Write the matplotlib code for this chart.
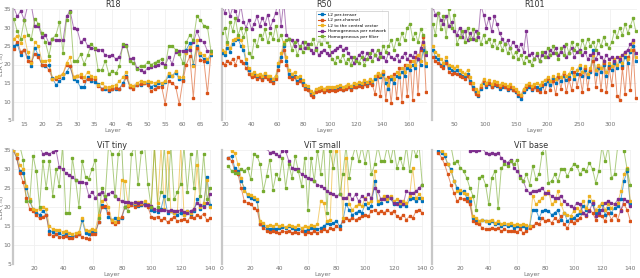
import numpy as np
import matplotlib
matplotlib.use("Agg")
import matplotlib.pyplot as plt
from matplotlib.lines import Line2D

# ---------------- data ----------------
series_names = ["L2 per-tensor", "L2 per-channel", "L2 to the central vector",
                "Homogeneous per network", "Homogeneous per filter"]
colors = ["#0072BD", "#D95319", "#EDB120", "#7E2F8E", "#77AC30"]

# R18 (layers 12..68)
r18_range = (12, 68)
r18_blue = [25, 25.5, 22.5, 24, 22, 19.5, 24.5, 22.5, 20, 19.5, 19.8, 16.3, 14.5, 15.5, 16.3, 18, 19.5, 16, 15.5, 13.8,
            14, 16.5, 15.5, 15.2, 14.6, 13.5, 13.5, 12.8, 13.3, 13.4, 13.5, 15, 17, 14, 13.8, 14.5, 14.5, 15, 15, 14,
            14.5, 15, 14.7, 15.2, 17, 16.8, 17.8, 16, 15.8, 24, 25.8, 20, 25, 22.5, 21.5, 20.8, 22.5]
r18_orange = [24.2, 26.2, 23.5, 24, 21, 20.8, 22.8, 22, 20, 19.8, 18.5, 16.2, 16, 16.5, 17.5, 19.8, 19.5, 16.5, 16.8, 16.5,
              15.5, 16.2, 16, 16, 14.2, 13.5, 13.8, 13, 13.5, 13.7, 13.5, 14.5, 16.5, 14, 13.5, 14.5, 14.8, 15, 14.5, 12.8,
              13.5, 14, 14, 9.4, 15.5, 15, 14, 9.3, 15.5, 20, 22.2, 11, 24.5, 21.2, 21, 12.2, 23]
r18_yellow = [27, 27.8, 25.8, 27.8, 23.3, 20.5, 26, 25, 21, 21, 21.2, 16.2, 16.5, 17, 17.5, 20.5, 22, 16.7, 17, 17.3,
              16.5, 18, 17, 16.5, 14.5, 15, 14, 13.8, 14.2, 14.5, 15.5, 16.5, 18, 14.5, 14.3, 15, 15.5, 15.3, 15.5, 15.3,
              15, 15.5, 15, 15.5, 17.8, 17, 18.2, 16.5, 16.5, 23, 24.8, 19.5, 26.5, 23, 22.5, 21.5, 23]
r18_purple = [35.5, 33, 34.5, 32, 36, 36, 30.5, 30.5, 27.5, 28, 25.7, 26.8, 26.5, 26.5, 26.5, 33, 34.5, 30, 29.5, 26,
              27, 25, 24.5, 24.2, 24, 24, 22.5, 22.3, 22.5, 21.5, 22, 25, 25.3, 21.5, 21.7, 19, 18.5, 18, 19, 19.3,
              19.5, 20, 20.3, 19.8, 22, 20.2, 23.5, 23.7, 23.7, 23.7, 24, 26, 29, 26.5, 26, 23.7, 23.7]
r18_green = [32.4, 29, 27, 32, 28, 27, 32.4, 31, 28.5, 26, 22.3, 27, 28, 31.5, 23.2, 32, 34.2, 21, 21, 22.8,
             20.2, 22.5, 25.5, 24.5, 18.4, 18.5, 21, 17.5, 18.2, 17.6, 19.5, 25.5, 25, 21, 20.5, 18.8, 19.7, 19.6, 20.6, 20,
             20.5, 21, 21.5, 19.3, 25, 25, 24, 22.8, 20.5, 26, 28, 26.5, 33, 32, 30.5, 30.2, 23.6]

# R50 (layers ~17.5..173)
r50_range = (17.5, 173.3)
r50_blue = [23.0, 22.5, 24.5, 23.5, 25.5, 26.5, 27.0, 25.0, 24.0, 20.5,
            18.5, 17.0, 17.5, 16.5, 16.8, 16.2, 17.0, 16.5, 16.0, 15.5, 16.5,
            19.5, 22.0, 25.0, 21.0, 17.5, 16.5, 17.0, 15.5, 16.0, 15.0,
            14.0, 13.5, 12.0, 11.5, 12.8, 13.0, 13.5, 12.8, 13.2, 13.0,
            13.4, 13.0, 13.5, 13.8, 13.2, 13.6, 14.0, 13.5, 14.2, 14.0,
            14.5, 14.2, 15.0, 14.5, 15.2, 14.8, 16.0, 17.0, 16.5, 17.5,
            15.0, 13.5, 16.0, 15.0, 17.0, 16.5, 18.0, 17.0, 19.0, 18.5,
            20.0, 19.0, 21.5, 20.0, 24.0, 19.5]
r50_orange = [20.5, 20.0, 21.0, 20.5, 21.5, 20.0, 22.0, 21.0, 20.5, 19.0,
              17.5, 16.5, 17.0, 16.0, 16.5, 15.8, 16.5, 16.0, 15.5, 15.0, 16.0,
              18.5, 21.0, 24.0, 20.0, 16.5, 16.0, 16.5, 15.0, 15.5, 14.5,
              13.5, 13.0, 11.8, 11.2, 12.5, 12.8, 13.0, 12.5, 13.0, 12.8,
              13.0, 12.8, 13.2, 13.5, 13.0, 13.3, 13.8, 13.2, 14.0, 13.8,
              14.2, 13.8, 14.8, 14.2, 15.0, 14.5, 12.0, 17.0, 11.5, 18.0,
              10.5, 16.5, 9.5, 17.5, 11.0, 19.0, 10.0, 20.0, 11.5, 21.0,
              10.5, 22.0, 12.0, 24.0, 27.5, 12.5]
r50_yellow = [24.0, 23.5, 25.5, 24.5, 26.5, 27.0, 27.5, 26.5, 25.0, 21.5,
              19.0, 17.5, 18.0, 17.2, 17.5, 17.0, 17.8, 17.0, 16.8, 16.2, 17.0,
              20.5, 23.0, 26.0, 22.0, 18.5, 17.5, 18.0, 16.5, 16.8, 15.8,
              14.5, 14.2, 12.8, 12.2, 13.5, 13.6, 14.0, 13.5, 14.0, 13.8,
              14.0, 13.8, 14.2, 14.5, 14.0, 14.3, 14.8, 14.2, 15.0, 14.8,
              15.2, 15.0, 15.8, 15.3, 16.0, 15.5, 16.8, 17.8, 17.2, 18.2,
              16.0, 14.5, 17.0, 16.0, 18.0, 17.5, 19.0, 18.0, 20.0, 19.5,
              21.0, 20.0, 22.5, 21.0, 25.5, 20.5]
r50_purple = [36.0, 34.0, 36.5, 33.0, 35.5, 34.5, 32.0, 36.0, 31.5, 30.0,
              32.0, 29.5, 31.0, 33.0, 30.5, 32.5, 31.0, 33.5, 30.0, 32.0, 34.0,
              38.0, 30.5, 37.0, 28.0, 27.0, 26.5, 25.0, 26.5, 24.5, 26.0,
              24.5, 25.5, 24.0, 23.0, 24.5, 22.5, 23.5, 24.0, 23.0, 22.5,
              23.5, 24.0, 24.5, 25.0, 24.0, 24.5, 23.0, 22.0, 20.5, 21.5,
              22.5, 23.5, 21.5, 23.0, 22.0, 24.0, 22.5, 21.5, 23.0, 22.0,
              21.0, 23.0, 22.0, 21.5, 22.5, 21.0, 22.0, 23.0, 21.5, 22.5,
              22.0, 23.5, 21.5, 24.5, 26.0, 22.5]
r50_green = [28.5, 30.0, 26.0, 31.5, 29.0, 32.5, 28.0, 30.0, 27.5, 29.5,
             23.0, 22.0, 26.5, 25.0, 28.0, 27.0, 29.5, 26.0, 28.5, 27.0, 30.5,
             26.5, 28.0, 25.5, 26.5, 27.0, 24.0, 26.0, 22.5, 25.0, 23.5,
             26.0, 24.5, 25.5, 27.0, 24.0, 26.5, 25.5, 27.0, 26.0, 25.0,
             21.5, 20.5, 22.0, 21.0, 22.5, 20.5, 21.5, 20.0, 22.0, 21.0,
             20.5, 22.0, 20.0, 21.5, 23.0, 21.0, 22.5, 24.0, 22.0, 25.0,
             23.5, 25.0, 26.5, 24.0, 27.0, 25.5, 28.5, 26.5, 30.0, 31.0,
             27.0, 28.5, 26.0, 29.5, 28.0, 23.5]

# R101 (layers ~16..341)
r101_range = (16.3, 341)
r101_blue = [24.0, 22.0, 21.5, 20.0, 19.5, 21.0, 19.0, 18.5, 18.0, 18.5,
             17.5, 17.0, 16.5, 17.5, 15.5, 14.0, 12.5, 11.5, 13.5, 15.0, 14.0,
             14.8, 13.8, 14.5, 14.2, 13.5, 14.0, 13.8, 13.2, 13.6, 13.0,
             12.5, 11.5, 10.8, 12.5, 13.5, 14.0, 13.2, 13.8, 14.0, 13.5,
             14.2, 14.8, 15.5, 14.5, 16.0, 15.0, 16.5, 15.5, 17.0, 15.8,
             16.5, 18.0, 16.0, 17.5, 19.0, 17.0, 18.5, 16.5, 18.0, 24.0,
             17.5, 19.0, 18.0, 20.0, 17.0, 19.5, 18.5, 20.5, 19.0, 21.0,
             19.5, 22.0, 20.5, 23.5, 25.0, 21.0]
r101_orange = [22.0, 21.0, 20.5, 19.5, 19.0, 20.5, 18.0, 17.5, 17.8, 17.5,
               17.0, 16.5, 16.0, 17.0, 15.0, 13.5, 12.0, 11.8, 13.8, 15.5, 14.5,
               15.0, 14.0, 14.8, 14.5, 14.0, 14.5, 14.0, 13.5, 14.0, 13.2,
               12.8, 12.0, 11.5, 13.0, 14.0, 14.5, 13.5, 14.0, 13.0, 12.5,
               14.5, 12.5, 16.0, 13.0, 15.5, 12.0, 16.5, 13.5, 17.5, 12.5,
               16.0, 13.0, 18.0, 14.0, 17.5, 12.5, 19.0, 13.5, 18.5, 21.0,
               14.0, 19.5, 13.0, 20.5, 12.5, 19.0, 14.5, 21.0, 11.5, 10.5,
               19.0, 12.0, 22.0, 13.0, 24.0, 11.0]
r101_yellow = [25.0, 23.5, 22.5, 21.5, 20.5, 22.0, 20.0, 19.5, 19.0, 19.5,
               18.5, 18.0, 17.5, 18.5, 16.5, 15.0, 13.5, 12.5, 14.5, 16.0, 15.0,
               15.8, 14.8, 15.5, 15.2, 14.5, 15.0, 14.8, 14.2, 14.6, 14.0,
               13.5, 12.5, 11.8, 13.5, 14.5, 15.0, 14.2, 14.8, 15.0, 14.5,
               15.2, 15.8, 16.5, 15.5, 17.0, 16.0, 17.5, 16.5, 18.0, 16.8,
               17.5, 19.0, 17.0, 18.5, 20.0, 18.0, 19.5, 17.5, 19.0, 22.5,
               18.5, 20.0, 19.0, 21.0, 18.0, 20.5, 19.5, 21.5, 20.0, 22.0,
               20.5, 23.0, 21.5, 24.0, 26.0, 22.0]
r101_purple = [35.5, 33.5, 34.0, 32.0, 31.0, 33.0, 30.5, 31.5, 29.0, 28.0,
               30.0, 27.5, 29.0, 26.5, 28.5, 27.0, 29.0, 27.5, 36.0, 33.5, 30.0,
               32.5, 29.0, 33.0, 31.0, 28.5, 27.0, 25.5, 26.5, 24.5, 26.0,
               25.0, 24.0, 25.5, 23.5, 29.0, 22.5, 23.0, 21.5, 22.5, 21.0,
               22.5, 23.5, 22.0, 24.0, 23.0, 24.5, 22.5, 23.5, 25.0, 22.0,
               23.0, 24.5, 22.0, 23.5, 24.0, 22.5, 23.5, 21.5, 22.5, 23.0,
               21.5, 23.0, 22.0, 21.0, 22.5, 21.5, 22.0, 21.0, 22.0, 21.5,
               22.5, 23.5, 24.0, 25.5, 26.5, 23.0]
r101_green = [31.0, 28.0, 34.0, 29.5, 33.0, 27.5, 35.0, 30.0, 33.5, 25.5,
              27.5, 29.0, 26.0, 30.0, 27.0, 29.5, 26.5, 28.5, 25.5, 28.0, 26.0,
              27.0, 25.0, 26.5, 24.5, 26.0, 24.0, 25.5, 23.0, 24.5, 22.0,
              23.5, 21.5, 22.5, 20.5, 22.0, 21.0, 20.0, 21.5, 23.0, 21.0,
              23.5, 22.0, 24.5, 22.5, 25.0, 23.0, 21.5, 24.5, 22.5, 25.5,
              23.0, 26.0, 24.0, 25.5, 23.5, 26.5, 24.5, 27.0, 25.0, 26.0,
              24.0, 26.5, 25.0, 27.5, 25.5, 24.5, 26.0, 29.0, 27.5, 30.0,
              28.0, 31.0, 28.5, 30.5, 32.5, 29.0]

# ViT tiny (layers ~6..140)
vt_range = (6, 140)
vt_blue = [35, 33, 29.5, 29, 25, 21.5, 19.5, 18.5, 18, 19, 18, 13.8, 13.5, 13, 13.2, 12.5, 12.8, 12.2, 12, 12.6,
           12.8, 16.5, 13.2, 13, 13.5, 13.3, 16, 20.5, 20, 17.5, 16.5, 17, 16.5, 17, 20, 20.5, 20.8, 20.5, 20.2, 20.5,
           20.8, 20.5, 19.2, 19, 18.8, 19.5, 23, 18.5, 19, 18.5, 18, 18.5, 18, 19, 17.8, 19, 22, 19.5, 20.5, 28, 20.5]
vt_orange = [35, 33, 29, 26.5, 22.5, 19.5, 19, 17.8, 17, 17.5, 18, 13, 12.5, 12.8, 12.2, 12, 12.3, 11.8, 11.9, 12.3,
             13, 12, 11.8, 11.5, 13, 13, 16, 20, 20.3, 18.5, 16, 15.5, 16, 17.5, 20, 20.2, 20.5, 20, 20.5, 20.8,
             20.5, 20, 17.5, 17.2, 17.5, 16.5, 17, 16, 16.8, 17.5, 16.2, 16.5, 16.8, 16.2, 17.5, 17, 18, 17.5, 18.2, 16.5, 17]
vt_yellow = [35, 34, 31, 30, 25.5, 22, 19.5, 19.3, 19.5, 20, 19.5, 15, 14.2, 14, 14, 13.5, 13.8, 13.2, 13, 13.2,
             13.5, 17, 14, 13.8, 14.2, 14, 18, 21.5, 22, 20, 16.5, 16, 17, 27, 26.8, 20.5, 21, 21, 21.2, 21,
             21.5, 20.8, 20, 36, 21, 36, 19.5, 34.5, 19, 18.5, 19, 36, 18, 19, 18.5, 19.5, 31, 20, 21, 27, 20]
vt_purple = [40, 40, 39, 39, 38, 38, 37.5, 37, 36, 34, 34.3, 34, 34.5, 35, 30.5, 30, 29, 28.5, 28, 27,
             26.5, 26.5, 26.3, 23, 24, 22.5, 23.5, 24, 22, 23.5, 24, 23, 22, 21.5, 21.2, 21.2, 21, 21.2, 21, 21.2,
             20.5, 20.5, 20.3, 19.5, 19.2, 19.2, 19.3, 19, 19.2, 19, 19, 19.2, 18.8, 18.5, 19, 19.5, 21, 20.5, 20, 21, 23.5]
vt_green = [36, 36, 36, 32.5, 21.5, 21.5, 33.5, 29.5, 20, 32, 25, 32, 23, 30, 25.5, 36, 18.5, 18.5, 33, 27,
            20, 32, 28, 27.5, 30, 32.5, 17, 25, 23, 36, 34, 23, 34, 36, 20, 19, 34, 36, 26, 34.5,
            36, 26, 20, 36, 20, 24, 36, 22, 36, 22, 24, 26, 36, 24, 34, 25, 36, 23, 34, 22, 25]

# ViT small (layers ~4.5..140)
vs_range = (4.5, 140)
vs_blue = [33.0, 33.4, 30.3, 29.5, 26.8, 25.1, 22.9, 22.4, 22.0, 21.5, 15.4, 14.9, 14.5, 14.1, 14.5, 14.3, 14.5, 14.7,
           14.5, 14.9, 14.5, 14.1, 14.3, 14.1, 13.6, 14.1, 14.5, 14.5, 14.1, 14.5, 14.9, 15.8, 15.4, 15.8, 16.3, 14.9,
           16.3, 20.7, 19.3, 18.0, 18.5, 18.9, 18.5, 20.7, 19.8, 20.2, 26.8, 20.7, 21.1, 22.4, 21.5, 22.4, 20.7, 21.1,
           20.2, 20.7, 20.2, 22.0, 22.4, 21.5, 22.4, 21.5]
vs_orange = [33.0, 32.1, 29.5, 28.6, 25.1, 21.5, 21.1, 20.7, 19.8, 19.3, 15.4, 14.5, 13.8, 13.5, 13.8, 13.5, 13.2, 13.6,
             13.5, 13.8, 13.2, 13.5, 13.2, 13.6, 12.9, 13.5, 13.2, 13.6, 13.2, 13.6, 14.1, 13.6, 14.5, 14.1, 14.9, 14.3,
             16.3, 17.1, 16.7, 17.1, 16.7, 17.1, 17.6, 18.0, 17.6, 18.9, 19.3, 18.5, 18.9, 18.5, 19.3, 18.5, 18.9, 17.6,
             17.1, 18.0, 16.7, 17.6, 17.1, 18.9, 19.3, 18.5]
vs_yellow = [36, 34.7, 34.3, 31.2, 27.7, 24.2, 23.3, 23.1, 22.6, 22.0, 16.3, 15.8, 14.9, 15.2, 14.9, 15.4, 14.9, 15.2,
             14.7, 15.2, 14.9, 14.7, 15.2, 14.5, 14.9, 14.7, 15.2, 14.9, 15.4, 21.5, 21.1, 16.3, 16.7, 36, 34.7, 36,
             17.1, 33.0, 20.7, 19.3, 20.2, 20.7, 20.2, 22.4, 21.1, 21.5, 29.5, 21.5, 22.0, 22.9, 22.0, 22.9, 21.5, 22.0,
             21.1, 21.5, 21.1, 22.9, 30.3, 22.4, 23.3, 22.4]
vs_purple = [40, 40, 39.5, 39, 39, 38.5, 38, 38, 37.5, 37, 36.5, 36, 35.5, 34.3, 34.6, 33.9, 33.4, 34.7, 34.7, 32.1,
             30.3, 29.9, 29.9, 28.6, 28.1, 27.7, 27.3, 26.8, 25.9, 25.5, 25.1, 24.2, 23.7, 23.3, 22.9, 23.3, 22.4, 22.4,
             23.3, 22.0, 23.3, 21.5, 22.9, 22.0, 23.3, 22.4, 25.1, 24.2, 22.0, 22.0, 22.9, 22.4, 21.1, 20.7, 21.5, 20.7,
             24.2, 23.7, 23.7, 24.2, 25.1, 25.9]
vs_green = [30.8, 29.5, 29.0, 29.0, 29.9, 29.5, 30.3, 27.3, 33.9, 33.4, 31.2, 24.2, 28.1, 32.5, 24.6, 28.6, 27.3, 33.0,
            25.1, 31.2, 27.7, 33.4, 29.5, 25.5, 33.0, 19.3, 33.0, 26.8, 34.7, 28.6, 36, 18.5, 34.7, 30.3, 36, 23.3,
            28.6, 36, 27.7, 33.0, 36, 32.1, 36, 31.7, 36, 28.6, 31.2, 36, 32.1, 32.1, 36, 32.1, 36, 30.3, 33.0, 30.3,
            36, 29.5, 36, 33.4, 36, 25.9]

# ViT base (layers ~4.5..140)
vb_range = (4.5, 140)
vb_blue = [34.7, 34.3, 33.4, 31.2, 29.9, 26.8, 25.1, 23.7, 24.2, 22.4, 21.5, 17.1, 16.3, 15.8, 16.7, 16.3, 15.8, 16.3,
           15.4, 15.8, 14.9, 15.4, 14.9, 15.2, 14.5, 14.9, 14.7, 14.9, 14.5, 14.9, 19.3, 19.3, 17.1, 18.9, 19.3, 18.9,
           18.0, 18.5, 19.3, 16.7, 18.5, 16.3, 17.1, 17.1, 18.0, 18.5, 20.2, 19.3, 21.5, 20.7, 18.5, 19.3, 20.7, 18.0,
           19.8, 18.5, 19.8, 20.2, 22.0, 26.8, 29.5, 20.7]
vb_orange = [34.3, 33.0, 31.2, 28.6, 25.9, 23.7, 21.5, 22.4, 22.0, 21.5, 20.7, 16.3, 15.8, 15.4, 14.5, 14.1, 14.1, 14.5,
             14.1, 14.5, 13.6, 14.1, 13.8, 13.6, 13.8, 13.5, 14.1, 13.2, 13.6, 14.5, 14.9, 15.8, 15.4, 17.1, 16.3, 16.7,
             15.8, 17.1, 16.3, 17.6, 15.4, 14.5, 16.3, 15.8, 16.7, 17.1, 18.5, 17.6, 19.3, 18.5, 16.7, 18.0, 17.6, 16.3,
             18.5, 16.7, 18.0, 16.7, 19.3, 20.7, 19.3, 16.3]
vb_yellow = [36, 34.7, 33.9, 31.2, 29.5, 26.8, 24.2, 24.6, 23.7, 23.3, 22.4, 17.6, 17.1, 16.4, 16.7, 16.3, 16.4, 16.7,
             15.8, 16.3, 15.6, 15.8, 15.4, 15.8, 15.2, 15.6, 15.2, 15.6, 15.2, 14.9, 22.9, 20.7, 21.5, 22.4, 23.3, 24.2,
             20.7, 21.5, 24.2, 20.7, 18.5, 18.0, 17.6, 18.9, 19.8, 18.9, 21.5, 19.8, 22.9, 21.5, 19.3, 20.2, 21.1, 19.3,
             20.7, 19.8, 20.7, 21.1, 24.2, 28.6, 30.3, 21.5]
vb_purple = [40, 40, 40, 39, 39, 38, 38, 37.5, 37, 36.5, 34.7, 34.9, 34.7, 34.9, 35.5, 34.3, 33.9, 34.3, 33.9, 34.3,
             33.0, 32.1, 31.7, 32.5, 30.3, 29.5, 28.1, 26.8, 24.6, 23.7, 24.2, 24.2, 24.6, 25.1, 23.7, 23.7, 22.9, 22.4,
             22.4, 22.9, 21.5, 20.7, 20.2, 19.8, 21.1, 20.7, 18.5, 18.0, 18.9, 21.1, 17.6, 18.5, 19.3, 21.1, 21.5, 21.1,
             20.7, 22.0, 18.9, 22.0, 21.5, 20.2]
vb_green = [36, 36, 36, 36, 36, 31.7, 32.1, 30.3, 29.5, 27.7, 25.1, 22.9, 19.3, 27.7, 28.1, 25.9, 20.7, 27.7, 29.5, 19.8,
            30.3, 31.2, 30.8, 32.1, 31.2, 32.5, 27.7, 26.8, 28.6, 25.9, 30.8, 27.3, 28.6, 34.3, 36, 26.4, 26.8, 28.6,
            26.8, 29.9, 29.9, 28.1, 29.9, 31.2, 30.8, 28.6, 29.9, 29.5, 31.7, 29.9, 26.4, 29.5, 36, 32.1, 36, 27.7,
            28.6, 36, 36, 34.7, 29.9, 25.9]

panels = [
    ("R18", r18_range, [r18_blue, r18_orange, r18_yellow, r18_purple, r18_green], [15, 20, 25, 30, 35, 40, 45, 50, 55, 60, 65]),
    ("R50", r50_range, [r50_blue, r50_orange, r50_yellow, r50_purple, r50_green], [20, 40, 60, 80, 100, 120, 140, 160]),
    ("R101", r101_range, [r101_blue, r101_orange, r101_yellow, r101_purple, r101_green], [50, 100, 150, 200, 250, 300]),
    ("ViT tiny", vt_range, [vt_blue, vt_orange, vt_yellow, vt_purple, vt_green], [20, 40, 60, 80, 100, 120, 140]),
    ("ViT small", vs_range, [vs_blue, vs_orange, vs_yellow, vs_purple, vs_green], [0, 20, 40, 60, 80, 100, 120, 140]),
    ("ViT base", vb_range, [vb_blue, vb_orange, vb_yellow, vb_purple, vb_green], [0, 20, 40, 60, 80, 100, 120, 140]),
]
y_ticks = [5, 10, 15, 20, 25, 30, 35]
y_labels = ["LLR (%)", "LLR (%)"]

# ---------------- figure ----------------
W, H = 640, 278
plt.rcParams["font.family"] = ["DejaVu Sans"]
fig = plt.figure(figsize=(W / 100, H / 100), dpi=100)

# pixel boxes (left, right, top, bottom)
boxes = [(13, 212, 9, 120), (222, 427, 9, 120), (432, 637, 9, 120),
         (13, 211, 150, 264), (222, 423, 150, 264), (432, 631, 150, 264)]
xlims = [(11.8, 68.3), (17.5, 174), (15, 343), (5.8, 140.5), (4.4, 140.5), (4.4, 140.5)]

tick_col = "#707070"
for i, ((title, (x0, x1), ys, xt), (l, r, t, b), xl) in enumerate(zip(panels, boxes, xlims)):
    ax = fig.add_axes([l / W, 1 - b / H, (r - l) / W, (b - t) / H])
    for vals, c in zip(ys, colors):
        x = np.linspace(x0, x1, len(vals))
        ax.plot(x, vals, color=c, lw=0.7, alpha=0.6, zorder=2)
        ax.plot(x, vals, ls="none", marker="s", ms=1.5, color=c, mec=c, zorder=3)
    ax.set_xlim(*xl)
    ax.set_ylim(5, 35)
    ax.set_xticks(xt)
    ax.set_yticks(y_ticks)
    ax.grid(True, color="#f0f0f0", lw=0.6, zorder=0)
    ax.set_axisbelow(True)
    for s in ["top", "right", "bottom"]:
        ax.spines[s].set_visible(False)
    ax.spines["left"].set_color("#c8c8c8")
    ax.spines["left"].set_linewidth(1.6)
    ax.tick_params(length=0, labelsize=4.3, colors=tick_col, pad=1.2)
    ax.set_title(title, fontsize=5.8, pad=1.0, color="#333333")
    ax.set_xlabel("Layer", fontsize=4.3, color=tick_col, labelpad=1.2)
    if i % 3 == 0:
        ax.set_ylabel(y_labels[i // 3], fontsize=4.3, color=tick_col)
        ax.yaxis.set_label_coords(-0.045, 0.5)
    else:
        ax.set_yticklabels([])
    if i == 1:
        handles = [Line2D([], [], color=c, lw=0.8, marker="s", ms=1.6) for c in colors]
        leg = ax.legend(handles, series_names, loc="upper left", bbox_to_anchor=(0.45, 1.0),
                        fontsize=3.1, frameon=True, handlelength=1.6, borderpad=0.4,
                        labelspacing=0.35, fancybox=False, edgecolor="#bbbbbb")
        leg.get_frame().set_linewidth(0.5)

fig.savefig("out.png", dpi=100)
